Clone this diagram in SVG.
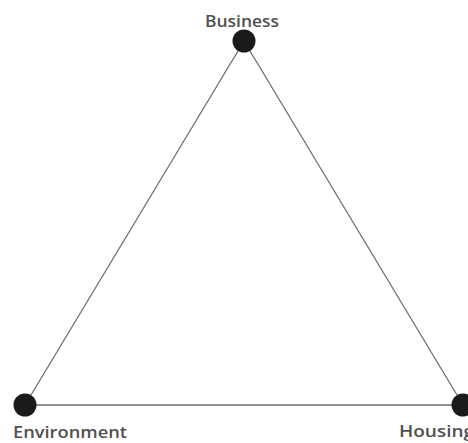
<svg xmlns="http://www.w3.org/2000/svg" width="468" height="443" viewBox="0 0 468 443">
<style>
.lbl{font-family:"Open Sans","Noto Sans","Liberation Sans",sans-serif;font-size:16px;font-weight:600;fill:#505050;}
.edge{stroke:#6e6e6e;stroke-width:1.3;fill:none;}
.dot{fill:#1a1a1a;}
</style>
<rect width="468" height="443" fill="#ffffff"/>
<g id="connectors">
<line class="edge" x1="244" y1="41" x2="25" y2="405"/>
<line class="edge" x1="244" y1="41" x2="463" y2="405"/>
<line class="edge" x1="25" y1="405" x2="463" y2="405"/>
</g>
<g id="business">
<circle class="dot" cx="244" cy="41" r="11.5"/>
<text class="lbl" x="242" y="27" text-anchor="middle" textLength="74" lengthAdjust="spacingAndGlyphs">Business</text>
</g>
<g id="environment">
<circle class="dot" cx="25" cy="405" r="11.5"/>
<text class="lbl" x="13" y="438" textLength="114" lengthAdjust="spacingAndGlyphs">Environment</text>
</g>
<g id="housing">
<circle class="dot" cx="463" cy="405" r="11.5"/>
<text class="lbl" x="399" y="437" textLength="75" lengthAdjust="spacingAndGlyphs">Housing</text>
</g>
</svg>
